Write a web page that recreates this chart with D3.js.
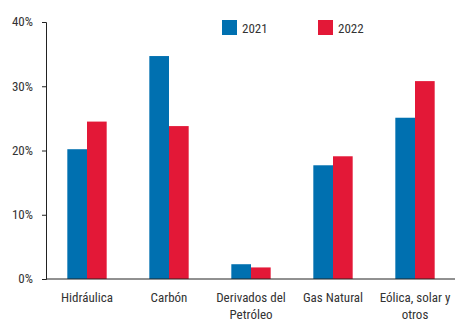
<!DOCTYPE html>
<html>
<head>
<meta charset="utf-8">
<script src="https://cdn.jsdelivr.net/npm/d3@7"></script>
<style>
  body { margin: 0; background: #fff; }
  text { font-family: "Liberation Sans Narrow", "Roboto Condensed", "Liberation Sans", sans-serif; fill: #333; }
</style>
</head>
<body>
<svg id="chart" width="455" height="323"></svg>
<script>
const categories = ['Hidráulica', 'Carbón', 'Derivados del|Petróleo', 'Gas Natural', 'Eólica, solar y|otros'];
const series = ['2021', '2022'];
const values2021 = [20.2, 34.7, 2.3, 17.7, 25.1];
const values2022 = [24.5, 23.8, 1.8, 19.1, 30.8];
const yTicks = [0, 10, 20, 30, 40];
const colours = ['#0070b0', '#e31837'];

const svg = d3.select('#chart');
const margin = { top: 22, right: -1, bottom: 44, left: 46 };
const width = +svg.attr('width');
const height = +svg.attr('height');

const x = d3.scaleBand().domain(categories).range([margin.left, width - margin.right]).paddingInner(0.52).paddingOuter(0.26);
const x1 = d3.scaleBand().domain(series).range([0, x.bandwidth()]);
const y = d3.scaleLinear().domain([0, 40]).range([height - margin.bottom, margin.top]);

const data = categories.map((c, i) => ({ cat: c, vals: [values2021[i], values2022[i]] }));

// bars
const groups = svg.append('g').selectAll('g').data(data).enter().append('g')
  .attr('transform', d => `translate(${x(d.cat)},0)`);
groups.selectAll('rect').data(d => d.vals.map((v, j) => ({ key: series[j], v, j })))
  .enter().append('rect')
    .attr('x', d => x1(d.key))
    .attr('y', d => y(d.v))
    .attr('width', x1.bandwidth())
    .attr('height', d => y(0) - y(d.v))
    .attr('fill', d => colours[d.j]);

// y axis
const yAxis = svg.append('g').attr('transform', `translate(${margin.left},0)`)
  .call(d3.axisLeft(y).tickValues(yTicks).tickFormat(d => d + '%').tickSize(4).tickPadding(9));
yAxis.select('.domain').attr('stroke', '#222');
yAxis.selectAll('.tick line').attr('stroke', '#222');
yAxis.selectAll('text').attr('font-size', 13).attr('dy', '0.3em');

// baseline
svg.append('line')
  .attr('x1', margin.left).attr('x2', width)
  .attr('y1', y(0)).attr('y2', y(0))
  .attr('stroke', '#222');

// category labels
const labels = svg.append('g').selectAll('text').data(categories).enter().append('text')
  .attr('x', d => x(d) + x.bandwidth() / 2)
  .attr('y', y(0) + 23)
  .attr('text-anchor', 'middle')
  .attr('font-size', 13);
labels.selectAll('tspan').data(d => d.split('|')).enter().append('tspan')
  .attr('x', function () { return d3.select(this.parentNode).attr('x'); })
  .attr('dy', (d, i) => i === 0 ? 0 : 17)
  .text(d => d);

// legend
const legendX = [222, 318];
const legend = svg.append('g').selectAll('g').data(series).enter().append('g')
  .attr('transform', (d, i) => `translate(${legendX[i]},20)`);
legend.append('rect').attr('width', 15).attr('height', 15).attr('fill', (d, i) => colours[i]);
legend.append('text').attr('x', 20).attr('y', 12.5).attr('font-size', 13).text(d => d);
</script>
</body>
</html>
